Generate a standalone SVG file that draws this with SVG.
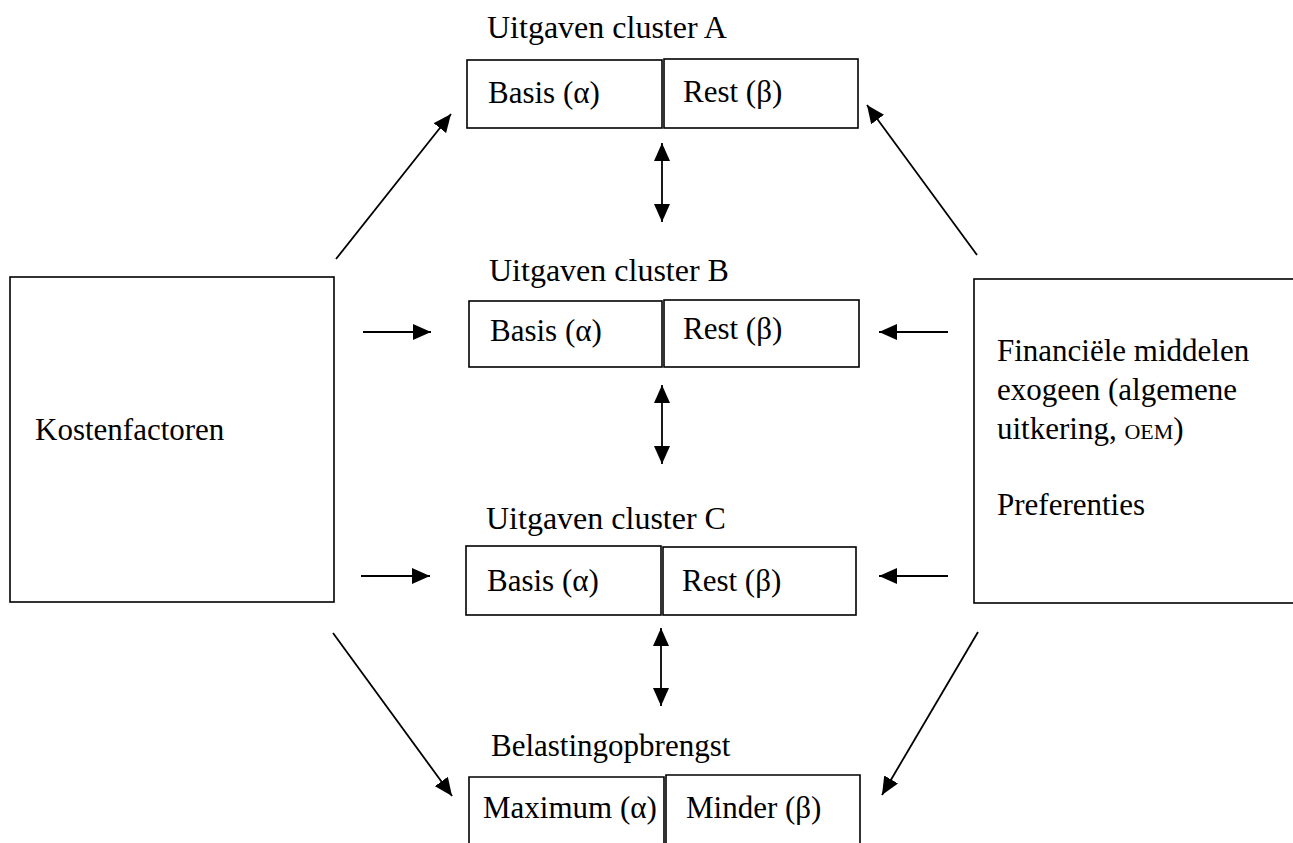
<svg xmlns="http://www.w3.org/2000/svg" width="1293" height="843" viewBox="0 0 1293 843">
<style>
.t{font-family:"Liberation Serif","Times New Roman",serif;font-size:31px;fill:#000}
.h{font-size:32px}
.sc{font-size:22px}
.b{fill:#fff;stroke:#000;stroke-width:1.6}
.c{stroke:#000;stroke-width:1.8;fill:none}
</style>
<defs>
<marker id="ah" markerUnits="userSpaceOnUse" markerWidth="20" markerHeight="16" refX="18" refY="8" orient="auto-start-reverse">
<path d="M0,0 L18,8 L0,16 Z" fill="#000"/>
</marker>
</defs>
<rect width="1293" height="843" fill="#fff"/>

<g id="kosten">
<rect class="b" x="10" y="277" width="324" height="325"/>
<text class="t" x="35" y="440">Kostenfactoren</text>
</g>

<g id="financien">
<rect class="b" x="974" y="279" width="330" height="324"/>
<text class="t" x="997" y="361">Financiële middelen</text>
<text class="t" x="997" y="400">exogeen (algemene</text>
<text class="t" x="997" y="439">uitkering, <tspan class="sc">OEM</tspan>)</text>
<text class="t" x="997" y="515">Preferenties</text>
</g>

<g id="clusterA">
<text class="t h" x="487" y="38">Uitgaven cluster A</text>
<rect class="b" x="467" y="60" width="195" height="68"/>
<rect class="b" x="664" y="59" width="194" height="69"/>
<text class="t" x="488" y="103">Basis (α)</text>
<text class="t" x="683" y="102">Rest (β)</text>
</g>

<g id="clusterB">
<text class="t h" x="489" y="281">Uitgaven cluster B</text>
<rect class="b" x="469" y="301" width="193" height="66"/>
<rect class="b" x="664" y="300" width="195" height="67"/>
<text class="t" x="490" y="341">Basis (α)</text>
<text class="t" x="683" y="339">Rest (β)</text>
</g>

<g id="clusterC">
<text class="t h" x="486" y="529">Uitgaven cluster C</text>
<rect class="b" x="466" y="546" width="195" height="69"/>
<rect class="b" x="663" y="547" width="193" height="68"/>
<text class="t" x="487" y="591">Basis (α)</text>
<text class="t" x="682" y="591">Rest (β)</text>
</g>

<g id="belasting">
<text class="t" x="491" y="756">Belastingopbrengst</text>
<path class="b" d="M469,850 V777 H664 V850"/>
<path class="b" d="M666,850 V775 H860 V850"/>
<text class="t" x="483" y="818">Maximum (α)</text>
<text class="t" x="686" y="818">Minder (β)</text>
</g>

<g id="connectors">
<line class="c" x1="336" y1="259" x2="451" y2="114" marker-end="url(#ah)"/>
<line class="c" x1="977" y1="255" x2="867" y2="105" marker-end="url(#ah)"/>
<line class="c" x1="363" y1="332" x2="431" y2="332" marker-end="url(#ah)"/>
<line class="c" x1="948" y1="332" x2="879" y2="332" marker-end="url(#ah)"/>
<line class="c" x1="361" y1="576" x2="430" y2="576" marker-end="url(#ah)"/>
<line class="c" x1="948" y1="576" x2="879" y2="576" marker-end="url(#ah)"/>
<line class="c" x1="333" y1="633" x2="452" y2="796" marker-end="url(#ah)"/>
<line class="c" x1="978" y1="632" x2="882" y2="795" marker-end="url(#ah)"/>
<line class="c" x1="662" y1="143" x2="662" y2="222" marker-start="url(#ah)" marker-end="url(#ah)"/>
<line class="c" x1="662" y1="385" x2="662" y2="464" marker-start="url(#ah)" marker-end="url(#ah)"/>
<line class="c" x1="661" y1="628" x2="661" y2="706" marker-start="url(#ah)" marker-end="url(#ah)"/>
</g>
</svg>
